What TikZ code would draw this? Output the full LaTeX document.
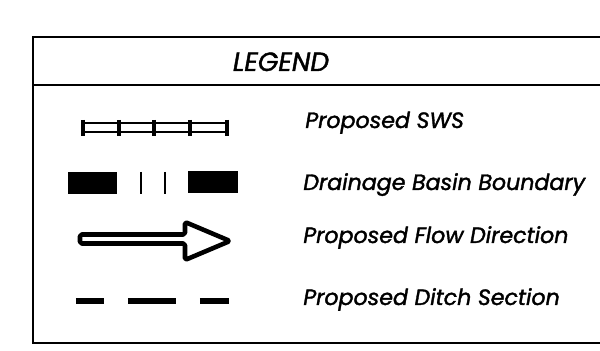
\documentclass[tikz,border=0pt]{standalone}
\usepackage{fontspec}
\setmainfont{Poppins}[ItalicFeatures={FakeBold=1.6}]
\begin{document}
\begin{tikzpicture}[
  x=0.02cm, y=-0.02cm,
  frame/.style={line width=1.4pt},
  hdr/.style={inner sep=0pt, anchor=base, font=\itshape\fontsize{15}{18}\selectfont},
  lbl/.style={inner sep=0pt, anchor=base west, font=\itshape\fontsize{12.6}{15}\selectfont},
  rail/.style={line width=1.2pt},
  tie/.style={line width=2.4pt},
  blk/.style={fill=black},
  thin/.style={line width=0.8pt},
  flowarrow/.style={line width=2.6pt, line join=round, rounded corners=1pt, fill=white},
  ditch/.style={line width=3.4pt},
]
\useasboundingbox (0,0) rectangle (600,351);

% ---- frame (open to the right) ----
\draw[frame] (600,37) -- (33,37) -- (33,343) -- (600,343);
\draw[frame] (33,85) -- (600,85);
\node[hdr] (legend) at (281,71) {LEGEND};

% ---- labels ----
\node[lbl] (sws)   at (305,128) {Proposed SWS};
\node[lbl] (basin) at (303,190) {Drainage Basin Boundary};
\node[lbl] (flow)  at (303,243) {Proposed Flow Direction};
\node[lbl] (ditch) at (303,305) {Proposed Ditch Section};

% ---- proposed SWS ----
\draw[rail] (83,123) -- (227,123);
\draw[rail] (83,132) -- (227,132);
\foreach \x in {83,119,154,190,227}
  \draw[tie] (\x,120) -- (\x,136);

% ---- drainage basin boundary ----
\fill[blk] (68,172) rectangle (117,194);
\fill[blk] (188,171) rectangle (238,193);
\foreach \x in {141,165}
  \draw[thin] (\x,172) -- (\x,194);

% ---- flow direction ----
\draw[flowarrow] (80,234.5) -- (185,234.5) -- (185,222) -- (230,241)
  -- (185,260) -- (185,243.5) -- (80,243.5) -- cycle;

% ---- ditch section ----
\foreach \a/\b in {76/104, 128/176, 200/229}
  \draw[ditch] (\a,301) -- (\b,301);
\end{tikzpicture}
\end{document}
